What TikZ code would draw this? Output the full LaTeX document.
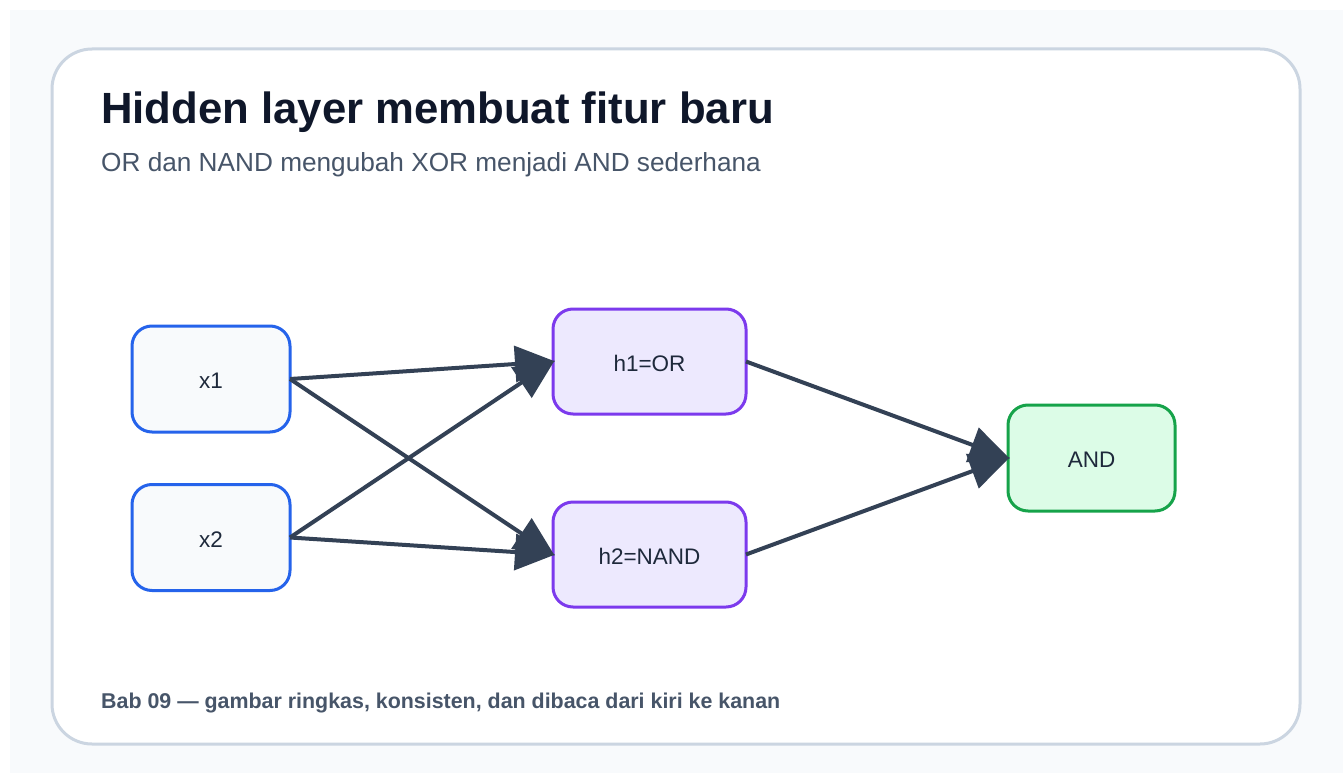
\documentclass[tikz,border=0pt]{standalone}
\usepackage{fontspec}
\setmainfont{Liberation Sans}
\usetikzlibrary{arrows.meta}
\definecolor{pagebg}{HTML}{F8FAFC}
\definecolor{cardline}{HTML}{CBD5E1}
\definecolor{titlec}{HTML}{0F172A}
\definecolor{subc}{HTML}{475569}
\definecolor{edgec}{HTML}{334155}
\definecolor{textc}{HTML}{1E293B}
\definecolor{bluec}{HTML}{2563EB}
\definecolor{bluefill}{HTML}{F8FAFC}
\definecolor{purplec}{HTML}{7C3AED}
\definecolor{purplefill}{HTML}{EDE9FE}
\definecolor{greenc}{HTML}{16A34A}
\definecolor{greenfill}{HTML}{DCFCE7}
\newcommand{\boxlbl}[1]{\raisebox{-2pt}[\height][0pt]{#1}}
\tikzset{
  box/.style={rectangle, rounded corners=20pt, line width=3pt, inner sep=0pt, outer sep=0pt,
    text=textc, font=\fontsize{22.5}{26}\selectfont},
  inbox/.style={box, draw=bluec, fill=bluefill, minimum width=158pt, minimum height=106pt},
  hidbox/.style={box, draw=purplec, fill=purplefill, minimum width=193pt, minimum height=105pt},
  outbox/.style={box, draw=greenc, fill=greenfill, minimum width=167pt, minimum height=106pt},
  edge/.style={draw=edgec, line width=4pt, -{Triangle[length=40pt,width=36pt]}, shorten >=-2pt},
}
\begin{document}
\begin{tikzpicture}[x=1pt,y=-1pt]
\useasboundingbox (0,0) rectangle (1343,773);
\fill[white] (0,0) rectangle (1343,773);
\fill[pagebg] (10,10) rectangle (1343,773);
\draw[cardline, line width=3pt, fill=white, rounded corners=40pt] (52,49) rectangle (1300,744);
\node[anchor=base west, text=titlec, font=\fontsize{43.7}{50}\selectfont\bfseries, inner sep=0pt] (title) at (101,124) {Hidden layer membuat fitur baru};
\node[anchor=base west, text=subc, font=\fontsize{26.2}{30}\selectfont, inner sep=0pt] (sub) at (101,171) {OR dan NAND mengubah XOR menjadi AND sederhana};
\node[anchor=base west, text=subc, font=\fontsize{21.4}{25}\selectfont\bfseries, inner sep=0pt] (foot) at (101,708) {Bab 09 — gambar ringkas, konsisten, dan dibaca dari kiri ke kanan};
\node[inbox] (x1) at (211,379) {\boxlbl{x1}};
\node[inbox] (x2) at (211,537.5) {\boxlbl{x2}};
\node[hidbox] (h1) at (649.5,361.5) {\boxlbl{h1=OR}};
\node[hidbox] (h2) at (649.5,554.5) {\boxlbl{h2=NAND}};
\node[outbox] (and) at (1091.5,458) {\boxlbl{AND}};
\draw[edge] (x1.east) -- (h1.west);
\draw[edge] (x1.east) -- (h2.west);
\draw[edge] (x2.east) -- (h1.west);
\draw[edge] (x2.east) -- (h2.west);
\draw[edge] (h1.east) -- (and.west);
\draw[edge] (h2.east) -- (and.west);
\end{tikzpicture}
\end{document}
